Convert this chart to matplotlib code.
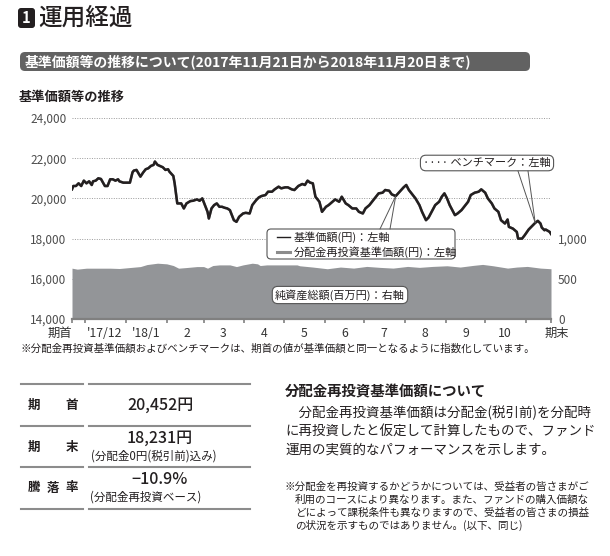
import pandas as pd
import matplotlib
matplotlib.use('Agg')
import matplotlib.pyplot as plt
from matplotlib.patches import FancyBboxPatch
from matplotlib.ticker import FuncFormatter

plt.rcParams['font.family'] = ['Noto Sans CJK JP', 'DejaVu Sans']

start = pd.Timestamp('2017-11-21')
end = pd.Timestamp('2018-11-20')

# 基準価額(円) : days after period start, value
nav_days = [0, 1, 3, 5, 7, 9, 11, 13, 15, 16, 18, 20, 22, 25, 27, 29, 31, 33, 35, 36,
            39, 42, 44, 46, 47, 49, 52, 54, 56, 58, 60, 62, 63, 65, 68, 69, 71, 73, 74, 77,
            78, 79, 80, 83, 85, 87, 90, 92, 95, 97, 99, 101, 103, 104, 106, 108, 110, 112, 114, 116,
            118, 120, 121, 123, 125, 127, 130, 132, 135, 137, 138, 140, 142, 144, 147, 149, 152, 154, 157, 159,
            162, 164, 167, 169, 172, 175, 177, 179, 181, 183, 185, 188, 190, 193, 195, 198, 200, 203, 205, 208,
            210, 213, 216, 218, 221, 223, 226, 228, 231, 233, 236, 238, 241, 243, 246, 249, 252, 254, 256, 259,
            261, 264, 266, 269, 271, 274, 276, 279, 281, 283, 285, 287, 289, 291, 293, 296, 298, 301, 303, 306,
            309, 311, 314, 316, 319, 321, 324, 326, 329, 331, 332, 335, 338, 339, 342, 344, 347, 349, 352, 354,
            356, 357, 359, 360, 363, 364]
nav_values = [20452, 20617, 20617, 20750, 20617, 20883, 20750, 20850, 20667, 20850, 20883, 21000, 20967, 20617, 20617, 20950, 20950, 20883, 20950, 20850,
              20783, 20783, 20783, 21300, 21383, 21417, 21083, 21283, 21450, 21500, 21617, 21667, 21833, 21667, 21583, 21550, 21417, 21450, 21333, 21117,
              20750, 20250, 19750, 19750, 19500, 19750, 19867, 19883, 19950, 19883, 20000, 19667, 19333, 19000, 19500, 19667, 19750, 19583, 19583, 19533,
              19500, 19417, 19250, 18917, 18833, 19083, 19250, 19283, 19250, 19667, 19750, 19917, 20050, 20117, 20167, 20333, 20333, 20450, 20583, 20500,
              20550, 20550, 20450, 20417, 20617, 20717, 20667, 20883, 20783, 20750, 20083, 19833, 19333, 19583, 19667, 19833, 19950, 19833, 20083, 19750,
              19667, 19500, 19500, 19333, 19250, 19500, 19667, 19833, 20083, 20250, 20283, 20417, 20383, 20200, 20117, 20333, 20550, 20667, 20417, 20167,
              20000, 19667, 19333, 18917, 19050, 19417, 19667, 19833, 20083, 20250, 20000, 19667, 19417, 19167, 19250, 19417, 19583, 19833, 20167, 20283,
              20333, 20450, 20283, 20000, 19750, 19500, 19333, 18917, 18750, 18950, 18583, 18500, 18333, 18000, 18000, 18167, 18450, 18583, 18783, 18883,
              18750, 18550, 18417, 18450, 18333, 18231]

# 純資産総額(百万円)
asset_days = [0, 4, 11, 21, 29, 36, 44, 52, 57, 65, 72, 77, 81, 87, 95, 100, 103, 107, 112, 120,
              125, 130, 137, 141, 143, 148, 160, 171, 173, 183, 194, 204, 214, 224, 234, 244, 255, 264, 274, 285,
              295, 305, 312, 320, 331, 338, 346, 356, 364]
asset_values = [632, 620, 632, 632, 632, 628, 640, 652, 677, 694, 686, 665, 632, 640, 652, 652, 632, 665, 673, 673,
                652, 673, 694, 686, 665, 673, 673, 673, 662, 646, 625, 646, 633, 654, 642, 633, 654, 642, 654, 662,
                646, 667, 679, 662, 633, 646, 654, 633, 625]

month_labels = ["'17/12", "'18/1", '2', '3', '4', '5', '6', '7', '8', '9', '10']

nav_dates = start + pd.to_timedelta(nav_days, unit='D')
asset_dates = start + pd.to_timedelta(asset_days, unit='D')

W, H = 610, 556
fig = plt.figure(figsize=(W / 100, H / 100), dpi=100)
txt = '#231f20'

# chart
ax = fig.add_axes([72 / W, 1 - 319 / H, (551 - 72) / W, (319 - 118) / H])
ax2 = ax.twinx()
ax.set_zorder(ax2.get_zorder() + 1)
ax.patch.set_visible(False)

ax2.fill_between(asset_dates, asset_values, color='#939598', lw=0, zorder=2)
ax2.set_ylim(0, 2500)
ax2.set_yticks([0, 500, 1000, 1500, 2000, 2500])
ax2.set_yticklabels(['0', '500', '1,000', '', '', ''])
ax2.grid(axis='y', ls=(0, (1, 1.5)), color='#9a9a9a', lw=0.7)
ax2.set_axisbelow(True)
ax2.tick_params(axis='y', length=0, pad=5, labelsize=8.5, labelcolor='#4d4d4d')

ax.plot(nav_dates, nav_values, color='#8c8c8c', lw=1.8)
ax.plot(nav_dates, nav_values, color=txt, lw=1.8)
ax.set_ylim(14000, 24000)
ax.set_yticks(range(14000, 24001, 2000))
ax.yaxis.set_major_formatter(FuncFormatter(lambda v, p: f'{v:,.0f}'))
ax.tick_params(axis='y', length=0, pad=4, labelsize=8.5, labelcolor='#4d4d4d')
ax.set_xlim(start, end)

bounds = [start] + list(pd.date_range('2017-12-01', '2018-11-01', freq='MS')) + [end]
mids = [d + pd.Timedelta(days=15) for d in pd.date_range('2017-12-01', '2018-10-01', freq='MS')]
ax.set_xticks(bounds)
ax.set_xticklabels([])
ax.set_xticks(mids, minor=True)
ax.set_xticklabels(month_labels, minor=True)
ax.tick_params(axis='x', which='major', length=3, width=1.2, color='#808080')
ax.tick_params(axis='x', which='minor', length=0, pad=6, labelsize=8.8, labelcolor='#333333')

for a in (ax, ax2):
    for s in a.spines.values():
        s.set_visible(False)
ax.spines['bottom'].set_visible(True)
ax.spines['bottom'].set_color('#808080')
ax.spines['bottom'].set_linewidth(1.6)

# page overlay in pixel coordinates
page = fig.add_axes([0, 0, 1, 1])
page.set_xlim(0, W)
page.set_ylim(H, 0)
page.axis('off')

page.text(72, 333, '期首', ha='right', va='center', fontsize=8.8, color='#333333')
page.text(557, 333, '期末', ha='center', va='center', fontsize=8.8, color='#333333')

box = dict(boxstyle='round,pad=0.25,rounding_size=0.5', fc='white', ec='#555555', lw=0.8)

# benchmark legend
page.text(487, 163, '···· ベンチマーク：左軸', ha='center', va='center', fontsize=8, color=txt, bbox=box)
i_bm = nav_days.index(352)
for xs in (518, 528):
    ax.annotate('', xy=(nav_dates[i_bm], nav_values[i_bm]), xycoords='data',
                xytext=(xs, 171), textcoords=page.transData,
                arrowprops=dict(arrowstyle='-', color='#555555', lw=0.7, shrinkA=0, shrinkB=0))

# nav legend
page.add_patch(FancyBboxPatch((267, 229), 188, 30, boxstyle='round,pad=0,rounding_size=4',
                              fc='white', ec='#555555', lw=0.8, zorder=3))
page.plot([277, 290], [237, 237], color=txt, lw=1.0, zorder=4)
page.plot([277, 290], [252, 252], color='#8c8c8c', lw=2.2, zorder=4)
page.text(294, 237, '基準価額(円)：左軸', va='center', fontsize=8, color=txt, zorder=4)
page.text(294, 252, '分配金再投資基準価額(円)：左軸', va='center', fontsize=8, color=txt, zorder=4)
i_nv = nav_days.index(246)
for xs in (380, 390):
    ax.annotate('', xy=(nav_dates[i_nv], nav_values[i_nv]), xycoords='data',
                xytext=(xs, 229), textcoords=page.transData,
                arrowprops=dict(arrowstyle='-', color='#555555', lw=0.7, shrinkA=0, shrinkB=0))

# asset legend
page.text(340, 295, '純資産総額(百万円)：右軸', ha='center', va='center', fontsize=8, color=txt, bbox=box)

# header
page.add_patch(FancyBboxPatch((18, 8), 17, 20, boxstyle='round,pad=0,rounding_size=3', fc=txt, ec='none'))
page.text(26.5, 18, '1', ha='center', va='center', fontsize=10.5, fontweight='bold', color='white')
page.text(38, 18, '運用経過', va='center', fontsize=17, fontweight='medium', color=txt)

page.add_patch(FancyBboxPatch((20, 52), 510, 19, boxstyle='round,pad=0,rounding_size=5', fc='#626262', ec='none'))
page.text(25, 61.5, '基準価額等の推移について(2017年11月21日から2018年11月20日まで)',
          va='center', fontsize=10, fontweight='bold', color='white')
page.text(19, 97, '基準価額等の推移', va='center', fontsize=9.5, fontweight='bold', color=txt)

page.text(20, 349, '※分配金再投資基準価額およびベンチマークは、期首の値が基準価額と同一となるように指数化しています。',
          va='center', fontsize=7.6, color=txt)

# table
for y in (384, 426, 467, 509):
    page.plot([21, 83], [y, y], color='#8c8c8c', lw=1.5)
    page.plot([89, 250], [y, y], color='#8c8c8c', lw=1.5)
for chars, y in ((['期', '首'], 405), (['期', '末'], 447), (['騰', '落', '率'], 488)):
    xs = [34, 72] if len(chars) == 2 else [34, 53, 72]
    for c, x in zip(chars, xs):
        page.text(x, y, c, ha='center', va='center', fontsize=9, fontweight='bold', color=txt)
page.text(160, 405, '20,452円', ha='center', va='center', fontsize=11.5, fontweight='medium', color=txt)
page.text(160, 438, '18,231円', ha='center', va='center', fontsize=11.5, fontweight='medium', color=txt)
page.text(154, 456, '(分配金0円(税引前)込み)', ha='center', va='center', fontsize=8.3, color=txt)
page.text(160, 480, '−10.9%', ha='center', va='center', fontsize=11.5, fontweight='medium', color=txt)
page.text(146, 497, '(分配金再投資ベース)', ha='center', va='center', fontsize=8.3, color=txt)

# right text
page.text(285, 392, '分配金再投資基準価額について', va='center', fontsize=10.4, fontweight='bold', color=txt)
para = ['　分配金再投資基準価額は分配金(税引前)を分配時',
        'に再投資したと仮定して計算したもので、ファンド',
        '運用の実質的なパフォーマンスを示します。']
for k, line in enumerate(para):
    page.text(285, 413 + k * 18.5, line, va='center', fontsize=9.7, color=txt)
note = ['※分配金を再投資するかどうかについては、受益者の皆さまがご',
        '利用のコースにより異なります。また、ファンドの購入価額な',
        'どによって課税条件も異なりますので、受益者の皆さまの損益',
        'の状況を示すものではありません。(以下、同じ)']
for k, line in enumerate(note):
    page.text(285 if k == 0 else 295, 487 + k * 12.7, line, va='center', fontsize=7.6, color=txt)

fig.savefig('out.png', dpi=100)
